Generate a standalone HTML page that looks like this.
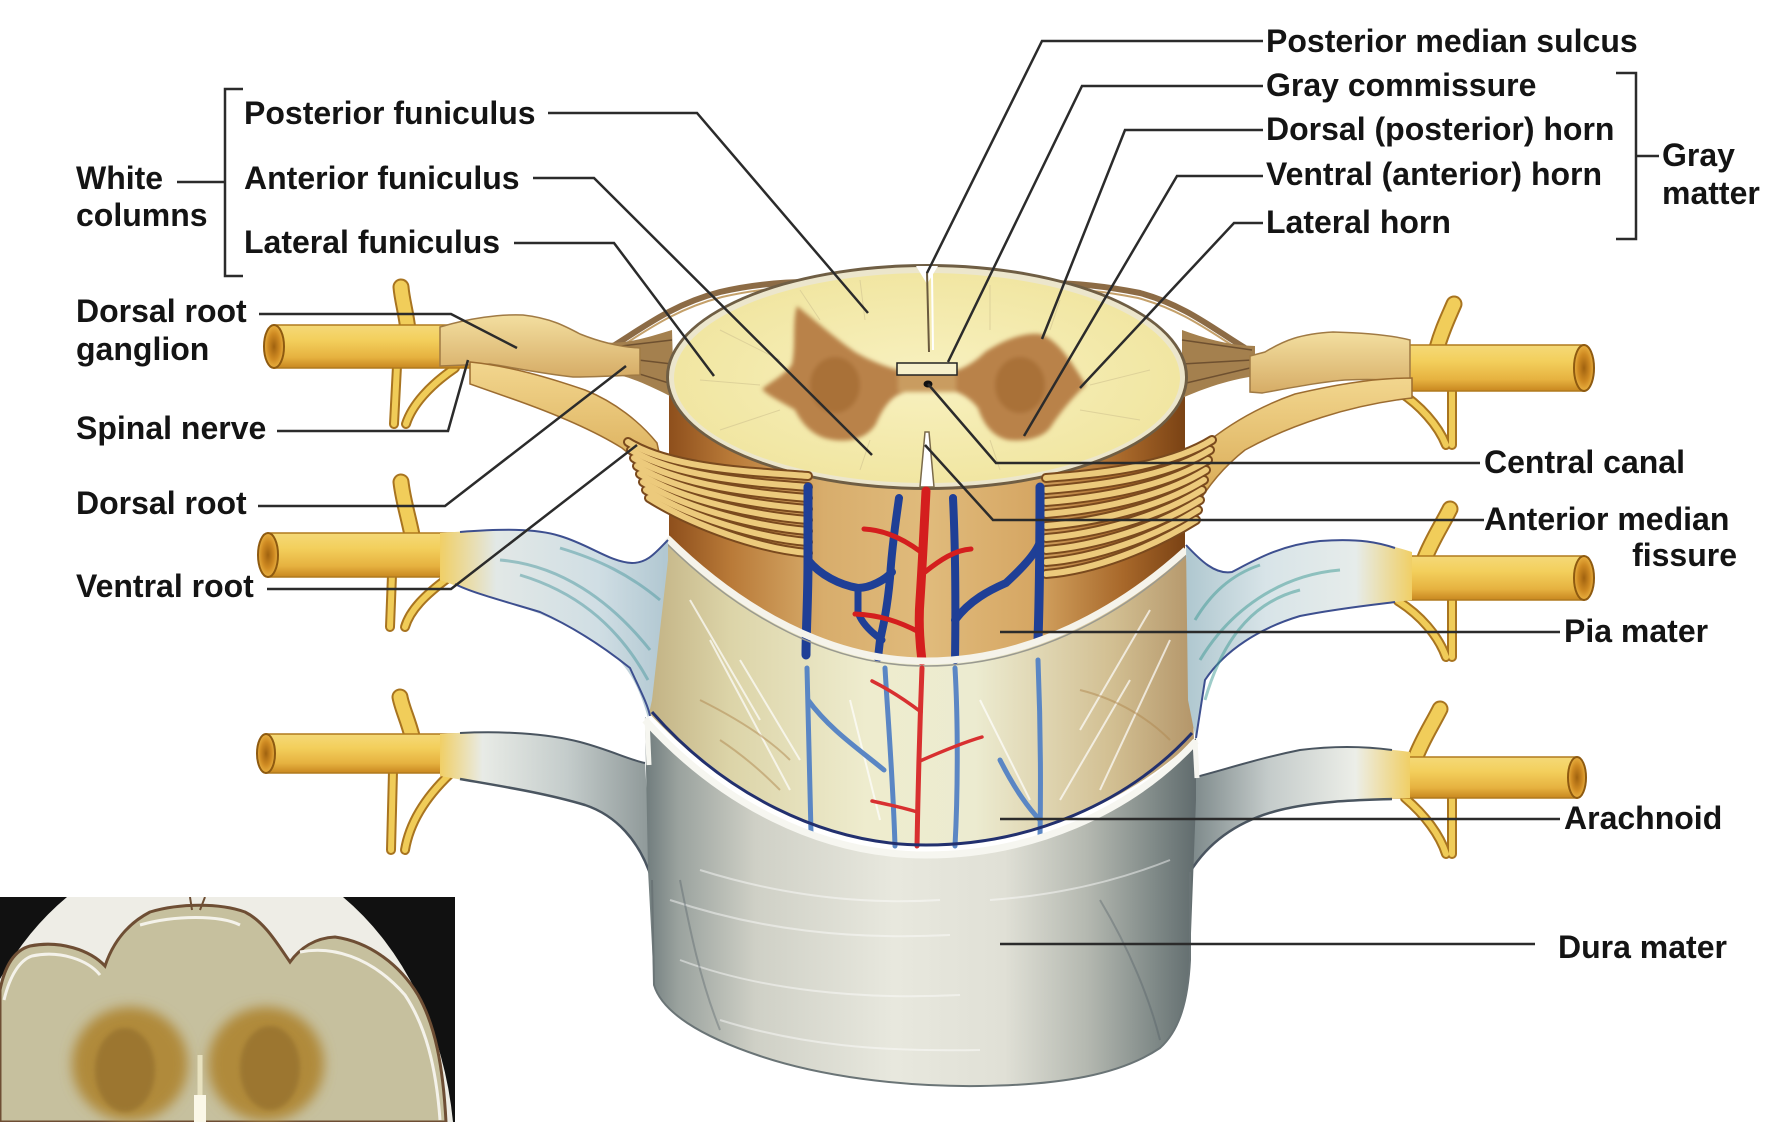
<!DOCTYPE html>
<html><head><meta charset="utf-8"><style>
html,body{margin:0;padding:0;background:#fff;width:1790px;height:1122px;overflow:hidden;}
svg{display:block;}
text{font-family:"Liberation Sans",Arial,sans-serif;font-weight:bold;font-size:32px;fill:#141414;}
</style></head><body>
<svg width="1790" height="1122" viewBox="0 0 1790 1122" xmlns="http://www.w3.org/2000/svg">
<defs>
<linearGradient id="ng" x1="0" y1="0" x2="0" y2="1"><stop offset="0" stop-color="#f4d978"/><stop offset=".35" stop-color="#f3cf5c"/><stop offset=".75" stop-color="#e6b240"/><stop offset="1" stop-color="#c8871f"/></linearGradient>
<radialGradient id="cut"><stop offset="0" stop-color="#a0620f"/><stop offset=".6" stop-color="#cf8a22"/><stop offset="1" stop-color="#e9b040"/></radialGradient>
<linearGradient id="cord" gradientUnits="userSpaceOnUse" x1="669" y1="0" x2="1185" y2="0"><stop offset="0" stop-color="#8e4f1c"/><stop offset=".12" stop-color="#b97a38"/><stop offset=".3" stop-color="#d8ad6c"/><stop offset=".5" stop-color="#e0bb7c"/><stop offset=".7" stop-color="#d6a764"/><stop offset=".88" stop-color="#a8682a"/><stop offset="1" stop-color="#7a4214"/></linearGradient>
<linearGradient id="arach" gradientUnits="userSpaceOnUse" x1="648" y1="0" x2="1194" y2="0"><stop offset="0" stop-color="#c2b284"/><stop offset=".15" stop-color="#dcd4a8"/><stop offset=".4" stop-color="#eeecce"/><stop offset=".6" stop-color="#ecebd0"/><stop offset=".85" stop-color="#d2bf92"/><stop offset="1" stop-color="#b4966a"/></linearGradient>
<linearGradient id="dura" gradientUnits="userSpaceOnUse" x1="645" y1="0" x2="1198" y2="0"><stop offset="0" stop-color="#6f7b7c"/><stop offset=".06" stop-color="#9aa29e"/><stop offset=".2" stop-color="#cfd0c6"/><stop offset=".45" stop-color="#e8e8de"/><stop offset=".65" stop-color="#e0e0d6"/><stop offset=".8" stop-color="#b4b8b0"/><stop offset=".92" stop-color="#808a88"/><stop offset="1" stop-color="#5f6a6c"/></linearGradient>
<linearGradient id="sl2L" gradientUnits="userSpaceOnUse" x1="440" y1="0" x2="665" y2="0"><stop offset="0" stop-color="#f0cf66"/><stop offset=".25" stop-color="#e2e8e6"/><stop offset=".7" stop-color="#d0dee4"/><stop offset="1" stop-color="#b2c8d2"/></linearGradient>
<linearGradient id="sl2R" gradientUnits="userSpaceOnUse" x1="1188" y1="0" x2="1412" y2="0"><stop offset="0" stop-color="#b0c8d0"/><stop offset=".35" stop-color="#d8e4e8"/><stop offset=".75" stop-color="#e6ecea"/><stop offset="1" stop-color="#f0cf66"/></linearGradient>
<linearGradient id="sl3L" gradientUnits="userSpaceOnUse" x1="440" y1="0" x2="652" y2="0"><stop offset="0" stop-color="#f0cf66"/><stop offset=".2" stop-color="#e8ebe6"/><stop offset=".6" stop-color="#c4cccb"/><stop offset="1" stop-color="#8d9797"/></linearGradient>
<linearGradient id="sl3R" gradientUnits="userSpaceOnUse" x1="1192" y1="0" x2="1410" y2="0"><stop offset="0" stop-color="#7d898a"/><stop offset=".35" stop-color="#c4cbca"/><stop offset=".75" stop-color="#eceee8"/><stop offset="1" stop-color="#f0cf66"/></linearGradient>
<linearGradient id="gang" x1="0" y1="0" x2="0" y2="1"><stop offset="0" stop-color="#f3dfa0"/><stop offset="1" stop-color="#d6ac66"/></linearGradient>
<linearGradient id="vroot" x1="0" y1="0" x2="0" y2="1"><stop offset="0" stop-color="#f2d68e"/><stop offset="1" stop-color="#d6a650"/></linearGradient>
<radialGradient id="xs" cx=".5" cy=".5" r=".5"><stop offset="0" stop-color="#f8f1c0"/><stop offset="1" stop-color="#f1e6a2"/></radialGradient>
<filter id="bl" x="-10%" y="-10%" width="120%" height="120%"><feGaussianBlur stdDeviation="2"/></filter>
<filter id="bl2" x="-20%" y="-20%" width="140%" height="140%"><feGaussianBlur stdDeviation="6"/></filter>
<clipPath id="ins"><rect x="0" y="897" width="455" height="225"/></clipPath>
</defs>

<!-- inset photo -->
<g clip-path="url(#ins)">
<rect x="0" y="897" width="455" height="225" fill="#111"/>
<path d="M67,897 L343,897 A250,316 0 0 1 453,1122 L0,1122 L0,979 A250,316 0 0 1 67,897 Z" fill="#eeede6"/>
<path d="M0,990 C5,965 15,950 30,946 C60,940 90,950 105,966 C112,945 125,925 150,912 C180,903 220,903 245,912 C265,922 278,945 290,962 C300,948 315,938 335,937 C370,942 400,965 418,995 C435,1025 443,1065 446,1122 L0,1122 Z" fill="#c6c09e" stroke="#6e4e34" stroke-width="3"/>
<path d="M4,1000 C10,975 20,960 32,956 C60,950 88,960 100,975 M140,925 C175,915 220,915 240,925 M300,952 C330,946 370,955 405,995 C425,1025 436,1065 440,1120" fill="none" stroke="#f4f2ea" stroke-width="3"/>
<ellipse cx="130" cy="1064" rx="58" ry="57" fill="#b08a3a" filter="url(#bl2)"/>
<ellipse cx="266" cy="1064" rx="58" ry="57" fill="#b08a3a" filter="url(#bl2)"/>
<ellipse cx="125" cy="1070" rx="30" ry="42" fill="#8f6a2a" opacity=".6" filter="url(#bl)"/>
<ellipse cx="270" cy="1068" rx="30" ry="42" fill="#8f6a2a" opacity=".6" filter="url(#bl)"/>
<path d="M200,1055 L200,1122" stroke="#e8e2c0" stroke-width="5"/>
<path d="M200,1095 L200,1122" stroke="#fbf8e8" stroke-width="12"/>
<path d="M190,897 L192,910 M205,897 L200,910" stroke="#6e4e34" stroke-width="2"/>
</g>

<!-- rami -->
<g fill="none" stroke-linecap="round">
<g stroke="#a87420" stroke-width="17">
<path d="M408,330 C406,312 402,300 401,287"/><path d="M412,535 C408,515 403,500 401,482"/><path d="M412,736 C408,720 402,708 400,697"/>
<path d="M1437,348 C1442,330 1448,318 1454,304"/><path d="M1425,558 C1432,540 1442,525 1450,509"/><path d="M1415,759 C1422,740 1432,725 1440,709"/>
</g>
<g stroke="#f1cd5a" stroke-width="13">
<path d="M408,330 C406,312 402,300 401,287"/><path d="M412,535 C408,515 403,500 401,482"/><path d="M412,736 C408,720 402,708 400,697"/>
<path d="M1437,348 C1442,330 1448,318 1454,304"/><path d="M1425,558 C1432,540 1442,525 1450,509"/><path d="M1415,759 C1422,740 1432,725 1440,709"/>
</g>
<g stroke="#a87420" stroke-width="10">
<path d="M397,366 L394,424"/><path d="M455,368 C430,385 412,405 406,424"/>
<path d="M392,575 L390,627"/><path d="M448,578 C425,595 410,610 405,627"/>
<path d="M393,771 L391,850"/><path d="M450,774 C428,795 410,820 405,850"/>
<path d="M1452,389 L1452,445"/><path d="M1398,391 C1420,405 1438,425 1446,445"/>
<path d="M1452,598 L1452,657"/><path d="M1398,601 C1420,615 1438,635 1446,657"/>
<path d="M1452,796 L1452,854"/><path d="M1405,798 C1425,815 1440,835 1446,854"/>
</g>
<g stroke="#f0cc58" stroke-width="6">
<path d="M397,366 L394,424"/><path d="M455,368 C430,385 412,405 406,424"/>
<path d="M392,575 L390,627"/><path d="M448,578 C425,595 410,610 405,627"/>
<path d="M393,771 L391,850"/><path d="M450,774 C428,795 410,820 405,850"/>
<path d="M1452,389 L1452,445"/><path d="M1398,391 C1420,405 1438,425 1446,445"/>
<path d="M1452,598 L1452,657"/><path d="M1398,601 C1420,615 1438,635 1446,657"/>
<path d="M1452,796 L1452,854"/><path d="M1405,798 C1425,815 1440,835 1446,854"/>
</g>
</g>

<!-- nerve tubes -->
<g stroke="#b07a1e" stroke-width="1.5">
<rect x="274" y="325" width="210" height="43" fill="url(#ng)"/>
<rect x="1395" y="345" width="189" height="46" fill="url(#ng)"/>
<rect x="268" y="533" width="205" height="44" fill="url(#ng)"/>
<rect x="1380" y="556" width="204" height="44" fill="url(#ng)"/>
<rect x="266" y="734" width="195" height="39" fill="url(#ng)"/>
<rect x="1380" y="757" width="197" height="41" fill="url(#ng)"/>
</g>
<g fill="url(#cut)" stroke="#8e5a10" stroke-width="2">
<ellipse cx="274" cy="346.5" rx="10" ry="21.5"/>
<ellipse cx="1584" cy="368" rx="10" ry="23"/>
<ellipse cx="268" cy="555" rx="10" ry="22"/>
<ellipse cx="1584" cy="578" rx="10" ry="22"/>
<ellipse cx="266" cy="753.5" rx="9" ry="19.5"/>
<ellipse cx="1577" cy="777.5" rx="9" ry="20.5"/>
</g>

<!-- dark strands behind cross-section -->
<g fill="none" stroke="#8c6b45" stroke-width="6">
<path d="M610,348 C640,330 670,305 720,292 C750,285 780,282 810,282"/>
<path d="M1245,348 C1215,330 1185,305 1140,293 C1100,285 1070,283 1045,283"/>
</g>
<g fill="none" stroke="#c4a06a" stroke-width="2">
<path d="M612,352 C642,334 672,310 722,297 C752,290 782,287 812,287"/>
<path d="M1243,352 C1213,334 1183,310 1138,298 C1098,290 1068,288 1043,288"/>
</g>

<!-- cord exposed body -->
<path d="M669,377 L669,545 C740,612 830,661 926,661 C1030,661 1120,612 1185,552 L1185,377 Z" fill="url(#cord)"/>
<!-- arachnoid covered region -->
<path d="M667,538 C740,610 830,661 926,661 C1030,661 1120,610 1186,550 L1194,740 C1128,803 1030,845 926,845 C822,845 722,792 648,712 Z" fill="url(#arach)"/>
<g fill="none" stroke="#ffffff" stroke-width="2" opacity=".7">
<path d="M690,600 L760,720"/><path d="M710,640 L790,790"/><path d="M740,660 L800,760"/><path d="M1150,610 L1080,730"/><path d="M1170,640 L1100,790"/><path d="M1130,680 L1060,800"/><path d="M980,700 L1030,800"/><path d="M850,700 L880,820"/>
</g>
<g fill="none" stroke="#b08850" stroke-width="2" opacity=".5">
<path d="M700,700 C740,720 770,740 790,760"/><path d="M1080,690 C1120,700 1150,720 1170,740"/><path d="M720,740 C750,760 770,780 780,790"/>
</g>

<!-- rootlet bundles -->
<path d="M600,342 C625,345 645,338 672,330 L674,398 C650,386 630,376 605,372 Z" fill="#a4804e"/>
<path d="M605,348 L672,340 M605,356 L672,364 M607,364 L672,384" stroke="#6e5030" stroke-width="1.5" fill="none"/>
<path d="M1255,346 C1225,345 1205,338 1182,330 L1182,398 C1205,388 1228,380 1255,376 Z" fill="#a4804e"/>
<path d="M1252,350 L1182,340 M1252,360 L1182,364 M1250,368 L1182,384" stroke="#6e5030" stroke-width="1.5" fill="none"/>

<!-- cross-section -->
<ellipse cx="927" cy="377" rx="261" ry="113" fill="#6f5e44"/>
<ellipse cx="927" cy="377" rx="258" ry="110" fill="#ece6cc"/>
<ellipse cx="927" cy="378" rx="253" ry="105" fill="url(#xs)"/>
<g stroke="#d8cc96" stroke-width="1" fill="none" opacity=".8">
<path d="M700,380 L760,385 M720,330 L780,360 M720,430 L780,410 M800,290 L820,320 M860,280 L865,320 M990,285 L990,330 M1060,300 L1050,330 M1150,370 L1090,385 M1140,420 L1080,410 M860,470 L870,440 M1000,470 L990,440"/>
</g>
<path d="M916,266 L927,284 L938,266 Z" fill="#fff"/>
<path d="M927,272 L929,352" stroke="#6a5a3e" stroke-width="2" fill="none"/>
<path d="M932,274 L933,350" stroke="#fff" stroke-width="2" fill="none"/>
<g filter="url(#bl)">
<path d="M797,306 C812,318 835,338 855,352 C872,362 890,368 905,372 L905,392 C890,396 882,410 876,424 C866,440 845,444 824,438 C808,432 800,420 795,410 C782,402 768,396 762,389 C772,381 786,374 792,364 C796,345 792,322 797,306 Z" fill="#b98248"/>
<path d="M1040,334 C1058,340 1070,360 1086,385 C1075,395 1062,410 1052,425 C1045,438 1025,442 1008,440 C990,436 982,420 978,408 C970,398 960,392 950,390 L950,372 C962,370 975,362 985,352 C1000,342 1022,332 1040,334 Z" fill="#b98248"/>
<rect x="898" y="368" width="58" height="24" fill="#c99c60"/>
<ellipse cx="835" cy="385" rx="25" ry="28" fill="#9e6630" opacity=".6"/>
<ellipse cx="1020" cy="385" rx="25" ry="28" fill="#9e6630" opacity=".6"/>
</g>
<rect x="897" y="363" width="60" height="12" fill="#f6f0cc" stroke="#222" stroke-width="1.5"/>
<ellipse cx="928" cy="384" rx="4.5" ry="3.5" fill="#111"/>
<path d="M920,487 L925,432 L929,432 L934,487 Z" fill="#fff" stroke="#7a6a4a" stroke-width="1.5"/>

<!-- ganglia -->
<path d="M440,327 C470,318 500,314 523,315 C550,318 565,326 580,334 C600,342 620,347 640,348 L640,375 C610,376 590,377 573,377 C545,374 515,368 490,364 L440,366 Z" fill="url(#gang)" stroke="#a07a44" stroke-width="1.5"/>
<path d="M1410,340 C1395,336 1370,333 1333,332 C1300,334 1285,340 1265,352 L1250,356 L1250,392 L1262,393 C1290,388 1320,382 1345,380 C1370,379 1395,380 1410,382 Z" fill="url(#gang)" stroke="#a07a44" stroke-width="1.5"/>

<!-- ventral roots -->
<path d="M470,362 C510,366 550,378 585,390 C615,402 640,422 657,443 L668,495 C655,478 640,462 622,448 C590,428 550,412 510,398 L470,384 Z" fill="url(#vroot)" stroke="#9c6c30" stroke-width="1.5"/>
<path d="M1412,378 C1370,378 1330,386 1295,394 C1255,408 1228,426 1210,440 L1193,512 C1205,490 1222,468 1245,450 C1290,425 1350,405 1412,398 Z" fill="url(#vroot)" stroke="#9c6c30" stroke-width="1.5"/>

<!-- root fibers over cord -->
<g fill="none" stroke-linecap="round">
<g stroke="#7a4a1e" stroke-width="10">
<path d="M628,442 C673,470 760,472 808,476"/><path d="M631,450 C676,478 760,483 808,487"/><path d="M634,458 C679,486 760,494 808,498"/><path d="M637,466 C682,494 760,505 808,509"/><path d="M640,474 C685,502 760,516 808,520"/><path d="M643,482 C688,510 760,527 808,531"/><path d="M646,490 C691,518 760,538 808,542"/><path d="M649,498 C694,526 760,549 808,553"/>
</g>
<g stroke="#ecca7c" stroke-width="6">
<path d="M628,442 C673,470 760,472 808,476"/><path d="M631,450 C676,478 760,483 808,487"/><path d="M634,458 C679,486 760,494 808,498"/><path d="M637,466 C682,494 760,505 808,509"/><path d="M640,474 C685,502 760,516 808,520"/><path d="M643,482 C688,510 760,527 808,531"/><path d="M646,490 C691,518 760,538 808,542"/><path d="M649,498 C694,526 760,549 808,553"/>
</g>
<g stroke="#7a4a1e" stroke-width="10">
<path d="M1212,440 C1167,468 1095,474 1046,478"/><path d="M1210,450 C1165,478 1095,486 1046,490"/><path d="M1208,460 C1163,488 1095,498 1046,502"/><path d="M1206,470 C1161,498 1095,510 1046,514"/><path d="M1204,480 C1159,508 1095,522 1046,526"/><path d="M1202,490 C1157,518 1095,534 1046,538"/><path d="M1200,500 C1155,528 1095,546 1046,550"/><path d="M1198,510 C1153,538 1095,558 1046,562"/><path d="M1196,520 C1151,548 1095,570 1046,574"/>
</g>
<g stroke="#ecca7c" stroke-width="6">
<path d="M1212,440 C1167,468 1095,474 1046,478"/><path d="M1210,450 C1165,478 1095,486 1046,490"/><path d="M1208,460 C1163,488 1095,498 1046,502"/><path d="M1206,470 C1161,498 1095,510 1046,514"/><path d="M1204,480 C1159,508 1095,522 1046,526"/><path d="M1202,490 C1157,518 1095,534 1046,538"/><path d="M1200,500 C1155,528 1095,546 1046,550"/><path d="M1198,510 C1153,538 1095,558 1046,562"/><path d="M1196,520 C1151,548 1095,570 1046,574"/>
</g>
</g>

<!-- upper vessels -->
<g fill="none" stroke-linecap="round">
<g stroke="#1f3f96">
<path d="M808,487 L808,560 C808,600 806,630 806,655" stroke-width="9"/>
<path d="M808,560 C820,575 840,585 858,588 C870,588 885,580 892,572" stroke-width="8"/>
<path d="M899,498 C896,520 892,545 890,578 C888,600 885,620 880,640 L878,658" stroke-width="8"/>
<path d="M858,588 L858,612 C862,625 875,635 882,640" stroke-width="7"/>
<path d="M953,498 C955,540 956,590 955,660" stroke-width="8"/>
<path d="M955,620 C970,600 990,590 1006,583 C1020,570 1035,555 1040,542" stroke-width="8"/>
<path d="M1040,487 C1040,530 1040,580 1038,640" stroke-width="9"/>
</g>
<g stroke="#d41e1e">
<path d="M926,491 C924,530 922,570 920,600 C918,625 920,645 922,661" stroke-width="9"/>
<path d="M864,529 C885,530 905,540 921,552" stroke-width="5"/>
<path d="M971,549 C955,550 940,560 925,572" stroke-width="5"/>
<path d="M855,614 C880,615 900,622 919,632" stroke-width="5"/>
</g>
</g>

<!-- pia cut edge -->
<path d="M667,538 C740,610 830,661 926,661 C1030,661 1120,610 1186,550" fill="none" stroke="#f5f3ea" stroke-width="7"/>
<path d="M667,544 C740,616 830,666 926,666 C1030,666 1120,616 1186,556" fill="none" stroke="#9a9a90" stroke-width="1.5"/>

<!-- lower vessels -->
<g fill="none" stroke-linecap="round">
<g stroke="#5a86c4" stroke-width="5">
<path d="M807,668 C808,720 810,780 811,833"/>
<path d="M885,668 C888,720 893,780 895,846"/>
<path d="M955,668 C958,720 958,790 955,846"/>
<path d="M1038,660 C1040,710 1041,780 1040,837"/>
<path d="M808,700 C830,730 860,750 884,770"/>
<path d="M1000,760 C1015,790 1030,810 1040,820"/>
</g>
<g stroke="#d83030">
<path d="M922,668 C920,720 918,790 917,846" stroke-width="5"/>
<path d="M872,681 C890,690 905,700 921,712" stroke-width="3.5"/>
<path d="M982,737 C965,742 945,750 920,761" stroke-width="3.5"/>
<path d="M872,801 C890,805 905,808 917,812" stroke-width="3.5"/>
</g>
</g>

<!-- pia sleeves nerve 2 -->
<path d="M440,533 C480,530 530,528 560,536 C590,545 610,562 632,563 C648,563 656,552 668,540 L668,560 L652,700 L648,718 C640,690 630,668 610,652 C580,630 540,612 500,600 C470,592 455,585 440,580 Z" fill="url(#sl2L)"/>
<path d="M460,532 C500,529 535,528 560,536 C590,545 610,562 632,563 C648,563 656,552 668,540" fill="none" stroke="#3d4f8f" stroke-width="2"/>
<path d="M455,584 C470,592 500,600 540,612 C580,630 610,652 630,668 C640,690 648,705 650,716" fill="none" stroke="#3d4f8f" stroke-width="2"/>
<g fill="none" stroke="#4f9aa0" stroke-width="3" opacity=".5">
<path d="M500,560 C560,565 610,600 650,650"/><path d="M520,575 C570,590 615,620 648,680"/><path d="M560,548 C600,560 630,575 660,600"/>
</g>
<path d="M1186,545 C1200,560 1215,575 1232,572 C1255,560 1280,545 1320,541 C1360,538 1390,545 1412,552 L1412,600 C1380,604 1340,608 1300,616 C1260,628 1225,650 1205,680 L1196,740 L1188,700 Z" fill="url(#sl2R)"/>
<path d="M1186,545 C1200,560 1215,575 1232,572 C1255,560 1280,545 1320,541 C1360,538 1380,543 1395,548" fill="none" stroke="#3d4f8f" stroke-width="2"/>
<path d="M1395,602 C1380,604 1340,608 1300,616 C1260,628 1225,650 1205,680 L1196,738" fill="none" stroke="#3d4f8f" stroke-width="2"/>
<g fill="none" stroke="#3f9a94" stroke-width="3" opacity=".5">
<path d="M1340,570 C1280,575 1230,610 1200,660"/><path d="M1300,590 C1260,600 1225,630 1205,700"/><path d="M1260,565 C1230,575 1210,595 1195,620"/>
</g>

<!-- dura -->
<path d="M645,763 C630,760 610,750 580,742 C540,732 490,730 440,734 L440,776 C490,785 540,792 585,805 C615,815 640,840 652,880 Z" fill="url(#sl3L)"/>
<path d="M460,733 C500,731 545,733 580,742 C610,750 630,760 645,763" fill="none" stroke="#4a5560" stroke-width="2"/>
<path d="M460,779 C500,786 545,793 585,805 C615,815 640,840 652,880" fill="none" stroke="#4a5560" stroke-width="2.5"/>
<path d="M1196,777 C1230,768 1260,758 1300,750 C1340,745 1380,748 1410,752 L1410,798 C1370,800 1320,800 1280,810 C1240,820 1210,840 1190,872 Z" fill="url(#sl3R)"/>
<path d="M1196,777 C1230,768 1260,758 1300,750 C1340,745 1370,747 1392,750" fill="none" stroke="#4a5560" stroke-width="2"/>
<path d="M1392,799 C1370,800 1320,800 1280,810 C1240,820 1210,840 1190,872" fill="none" stroke="#4a5560" stroke-width="2.5"/>
<path d="M645,717 C720,800 820,852 926,852 C1030,852 1130,810 1196,738 L1196,800 L1190,960 C1188,1000 1180,1030 1160,1048 C1120,1075 1060,1085 980,1086 C900,1087 820,1076 760,1056 C700,1036 662,1012 654,985 L648,870 Z" fill="url(#dura)"/>
<g fill="none" stroke="#ffffff" stroke-width="2" opacity=".45">
<path d="M670,900 C760,930 850,940 950,935"/><path d="M680,960 C760,990 860,1000 960,995"/><path d="M720,1020 C800,1045 880,1052 980,1050"/><path d="M700,870 C780,895 860,905 940,900"/><path d="M990,900 C1060,895 1120,880 1170,860"/>
</g>
<g fill="none" stroke="#4d5a62" stroke-width="2" opacity=".35">
<path d="M1100,900 C1130,950 1150,1000 1160,1040"/><path d="M680,880 C690,930 700,980 720,1030"/>
</g>
<path d="M652,712 C722,792 822,845 926,845 C1030,845 1128,803 1192,733" fill="none" stroke="#22306e" stroke-width="3"/>
<path d="M645,720 C720,803 820,855 926,855 C1030,855 1130,813 1196,741" fill="none" stroke="#f6f6f0" stroke-width="7"/>
<path d="M647,718 L649,765" stroke="#f6f6f0" stroke-width="5"/>
<path d="M1195,740 L1197,778" stroke="#f6f6f0" stroke-width="5"/>
<path d="M1190,872 L1190,960 C1188,1000 1180,1030 1160,1048 C1120,1075 1060,1085 980,1086 C900,1087 820,1076 760,1056 C700,1036 662,1012 654,985 L652,880" fill="none" stroke="#6a7476" stroke-width="2"/>

<!-- leader lines -->
<g fill="none" stroke="#2b2b2b" stroke-width="2.5">
<path d="M548,113 L697,113 L868,313"/>
<path d="M533,178 L594,178 L872,455"/>
<path d="M514,243 L614,243 L714,376"/>
<path d="M259,314 L451,314 L517,348"/>
<path d="M277,431 L448,431 L468,360"/>
<path d="M258,506 L445,506 L626,366"/>
<path d="M267,589 L451,589 L637,445"/>
<path d="M1263,41 L1042,41 L927,273"/>
<path d="M1263,86 L1082,86 L948,362"/>
<path d="M1263,130 L1125,130 L1042,339"/>
<path d="M1263,176 L1177,176 L1024,436"/>
<path d="M1263,223 L1234,223 L1080,388"/>
<path d="M1480,463 L996,463 L928,384"/>
<path d="M1484,520 L993,520 L925,445"/>
<path d="M1560,632 L1000,632"/>
<path d="M1560,819 L1000,819"/>
<path d="M1535,944 L1000,944"/>
<path d="M243,89 L225,89 L225,276 L243,276"/>
<path d="M177,182 L225,182"/>
<path d="M1616,73 L1636,73 L1636,239 L1616,239"/>
<path d="M1636,156 L1659,156"/>
</g>

<!-- labels -->
<text x="1266" y="52">Posterior median sulcus</text>
<text x="1266" y="96">Gray commissure</text>
<text x="1266" y="140">Dorsal (posterior) horn</text>
<text x="1266" y="185">Ventral (anterior) horn</text>
<text x="1266" y="233">Lateral horn</text>
<text x="1662" y="166">Gray</text>
<text x="1662" y="204">matter</text>
<text x="76" y="189">White</text>
<text x="76" y="226">columns</text>
<text x="244" y="124">Posterior funiculus</text>
<text x="244" y="189">Anterior funiculus</text>
<text x="244" y="253">Lateral funiculus</text>
<text x="76" y="322">Dorsal root</text>
<text x="76" y="360">ganglion</text>
<text x="76" y="439">Spinal nerve</text>
<text x="76" y="514">Dorsal root</text>
<text x="76" y="597">Ventral root</text>
<text x="1484" y="473">Central canal</text>
<text x="1484" y="530">Anterior median</text>
<text x="1737" y="566" text-anchor="end">fissure</text>
<text x="1564" y="642">Pia mater</text>
<text x="1564" y="829">Arachnoid</text>
<text x="1558" y="958">Dura mater</text>
</svg>
</body></html>
